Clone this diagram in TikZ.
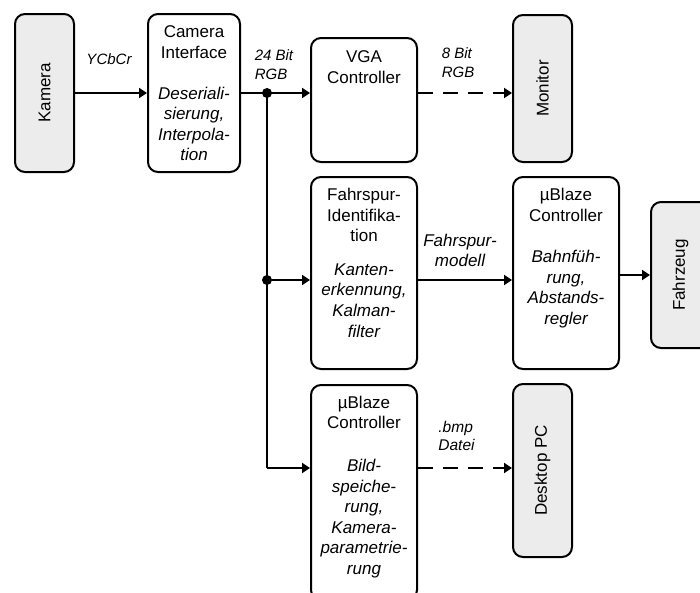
\documentclass[tikz,border=0pt]{standalone}
\usepackage{fontspec}
\setmainfont{Liberation Sans}
\usetikzlibrary{arrows.meta}
\begin{document}
\begin{tikzpicture}[x=1pt,y=-1pt,
  boxbase/.style={draw, line width=2pt, rounded corners=10pt, inner sep=0pt},
  wbox/.style={boxbase, fill=white},
  gbox/.style={boxbase, fill=gray!15},
  boxtxt/.style={font=\fontsize{17}{20.6}\selectfont, align=center, inner sep=0pt},
  bodytxt/.style={boxtxt, font=\fontsize{17}{20.6}\selectfont\itshape},
  rottxt/.style={font=\fontsize{17}{20.6}\selectfont, rotate=90, inner sep=0pt},
  lbl/.style={font=\fontsize{15}{19}\selectfont\itshape, align=left, inner sep=0pt},
  conn/.style={line width=2pt},
  arr/.style={conn, -{Triangle[length=8pt,width=10pt]}},
  dashline/.style={dash pattern=on 15pt off 10pt},
  dot/.style={circle, fill=black, inner sep=0pt, minimum size=10pt}
]
\useasboundingbox (0,0) rectangle (700,592);
\clip (0,0) rectangle (700,592);

% boxes
\node[gbox, minimum width=59pt, minimum height=158pt] (kamera) at (44.5,93) {};
\node[wbox, minimum width=92pt, minimum height=158pt] (camif) at (194,93) {};
\node[wbox, minimum width=106pt, minimum height=124pt] (vga) at (364,100) {};
\node[gbox, minimum width=59pt, minimum height=147pt] (monitor) at (542.5,88.5) {};
\node[wbox, minimum width=106pt, minimum height=192pt] (fahrspur) at (364,273) {};
\node[wbox, minimum width=106pt, minimum height=192pt] (ublazea) at (566,273) {};
\node[gbox, minimum width=59pt, minimum height=146pt] (fahrzeug) at (680.5,275) {};
\node[wbox, minimum width=106pt, minimum height=215pt] (ublazeb) at (364,492.5) {};
\node[gbox, minimum width=59pt, minimum height=173pt] (desktop) at (542.5,470.5) {};

% box texts
\node[rottxt] (kameraT) at (kamera.center) {Kamera};
\node[rottxt] (monitorT) at (monitor.center) {Monitor};
\node[rottxt] (fahrzeugT) at (680.5,275) {Fahrzeug};
\node[rottxt] (desktopT) at (desktop.center) {Desktop PC};

\node[boxtxt] (camifT) at (194,42) {Camera\\Interface};
\node[bodytxt] (camifB) at (194,124) {Deseriali-\\sierung,\\Interpola-\\tion};
\node[boxtxt] (vgaT) at (364,67) {VGA\\Controller};
\node[boxtxt] (fahrspurT) at (364,215) {Fahrspur-\\Identifika-\\tion};
\node[bodytxt] (fahrspurB) at (364,300.5) {Kanten-\\erkennung,\\Kalman-\\filter};
\node[boxtxt] (ublazeaT) at (566,205) {µBlaze\\Controller};
\node[bodytxt] (ublazeaB) at (566,289) {Bahnfüh-\\rung,\\Abstands-\\regler};
\node[boxtxt] (ublazebT) at (364,412.5) {µBlaze\\Controller};
\node[bodytxt] (ublazebB) at (364,518.5) {Bild-\\speiche-\\rung,\\Kamera-\\parametrie-\\rung};

% connector labels
\node[lbl] (ycbcr) at (109,59) {YCbCr};
\node[lbl] (rgb24) at (274,65) {24 Bit\\RGB};
\node[lbl] (rgb8) at (458,63) {8 Bit\\RGB};
\node[lbl, align=center, font=\fontsize{17}{20}\selectfont\itshape] (modell) at (460,250) {Fahrspur-\\modell};
\node[lbl, font=\fontsize{15.5}{18}\selectfont\itshape] (bmp) at (456.5,436) {.bmp\\Datei};

% junctions
\coordinate (j1) at (267,93);
\coordinate (j2) at (267,280);
\coordinate (j3) at (267,468);

% connectors
\draw[arr] (kamera.east) -- (camif.west);
\draw[conn] (camif.east) -- (j1);
\draw[arr] (j1) -- (j1 -| vga.west);
\draw[arr, dashline] (vga.east |- j1) -- (monitor.west |- j1);
\draw[conn] (j1) -- (j3);
\draw[arr] (j3) -- (j3 -| ublazeb.west);
\draw[arr] (j2) -- (j2 -| fahrspur.west);
\draw[arr] (fahrspur.east |- j2) -- (ublazea.west |- j2);
\draw[arr] (ublazea.east |- fahrzeug.west) -- (fahrzeug.west);
\draw[arr, dashline] (ublazeb.east |- j3) -- (desktop.west |- j3);

\node[dot] (d1) at (j1) {};
\node[dot] (d2) at (j2) {};
\end{tikzpicture}
\end{document}
